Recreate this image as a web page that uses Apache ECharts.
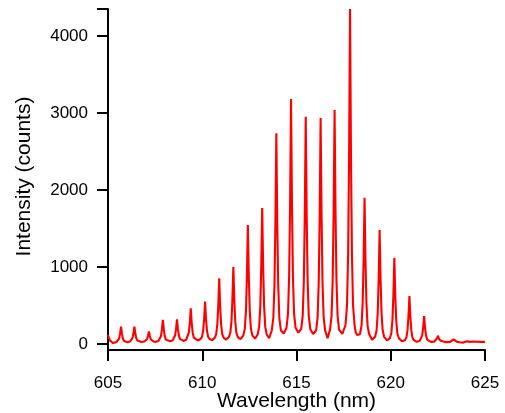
<!DOCTYPE html>
<html>
<head>
<meta charset="utf-8">
<script src="https://cdn.jsdelivr.net/npm/echarts@6/dist/echarts.min.js"></script>
<style>html,body{margin:0;padding:0;background:#fff}#c{width:505px;height:413px}</style>
</head>
<body>
<div id="c"></div>
<script>
const wavelength = [
605.00,605.05,605.12,605.20,605.28,605.36,
605.45,605.53,605.59,605.64,605.69,605.74,605.79,605.85,605.93,606.05,
606.16,606.24,606.30,606.35,606.40,606.45,606.50,606.56,606.64,606.78,
606.93,607.01,607.07,607.12,607.17,607.22,607.27,607.33,607.41,607.54,
607.67,607.75,607.81,607.86,607.91,607.96,608.01,608.07,608.15,608.29,
608.42,608.50,608.56,608.61,608.66,608.71,608.76,608.82,608.90,609.03,
609.15,609.23,609.29,609.34,609.39,609.44,609.49,609.55,609.63,609.77,
609.91,609.99,610.05,610.10,610.15,610.20,610.25,610.31,610.39,610.52,
610.66,610.74,610.80,610.85,610.90,610.95,611.00,611.06,611.14,611.27,
611.41,611.49,611.55,611.60,611.65,611.70,611.75,611.81,611.89,612.03,
612.18,612.26,612.32,612.37,612.42,612.47,612.52,612.58,612.66,612.80,
612.94,613.02,613.08,613.13,613.18,613.23,613.28,613.34,613.42,613.55,
613.69,613.77,613.83,613.88,613.93,613.98,614.03,614.09,614.17,614.32,
614.47,614.55,614.61,614.66,614.71,614.76,614.81,614.87,614.95,615.10,
615.25,615.33,615.39,615.44,615.49,615.54,615.59,615.65,615.73,615.88,
616.04,616.12,616.18,616.23,616.28,616.33,616.38,616.44,616.52,616.65,
616.78,616.86,616.92,616.97,617.02,617.07,617.12,617.18,617.26,617.43,
617.60,617.68,617.74,617.79,617.84,617.89,617.94,618.00,618.08,618.14,618.18,618.23,
618.37,618.45,618.51,618.56,618.61,618.66,618.71,618.77,618.85,619.01,
619.17,619.25,619.31,619.36,619.41,619.46,619.51,619.57,619.65,619.80,
619.95,620.03,620.09,620.14,620.19,620.24,620.29,620.35,620.43,620.59,
620.75,620.83,620.89,620.94,620.99,621.04,621.09,621.15,621.23,621.38,
621.53,621.61,621.67,621.72,621.77,621.82,621.87,621.93,622.01,622.13,
622.30,622.40,622.46,622.50,622.55,622.62,622.72,622.92,
623.15,623.25,623.33,623.41,623.52,
623.65,623.75,623.85,623.95,624.05,624.12,624.20,624.30,624.40,624.50,624.60,624.70,624.80,624.90,625.00
];
const intensity = [
117,80,40,15,12,20,
26,38,71,133,225,133,71,38,26,22,
32,44,76,136,226,136,76,44,32,25,
32,40,62,103,164,103,62,40,32,28,
40,57,102,186,312,186,102,57,40,35,
46,63,109,193,320,193,109,63,46,40,
58,83,150,275,463,275,150,83,58,46,
65,95,175,325,550,325,175,95,65,50,
80,128,255,494,853,494,255,128,80,58,
90,146,297,578,1000,578,297,146,90,62,
112,201,437,880,1545,880,437,201,112,70,
124,225,496,1004,1766,1004,496,225,124,75,
179,337,759,1550,2736,1550,759,337,179,135,
212,396,886,1804,3182,1804,886,396,212,147,
195,366,821,1673,2952,1673,821,366,195,130,
175,346,801,1655,2935,1655,801,346,175,74,
188,365,835,1716,3039,1716,835,365,188,130,
247,501,1178,2447,4350,2447,1178,501,247,150,170,115,
130,239,531,1079,1900,1079,531,239,130,55,
93,179,408,837,1480,837,408,179,93,48,
74,139,312,635,1120,635,312,139,74,35,
50,85,180,357,623,357,180,85,50,28,
38,58,112,213,364,213,112,58,38,28,
30,45,75,108,75,45,30,24,
28,42,61,42,28,
22,30,18,26,35,20,28,15,32,22,30,18,27,20,28
];
const xTicks = [605, 610, 615, 620, 625];
const yTicks = [0, 1000, 2000, 3000, 4000];
const xTitle = 'Wavelength (nm)';
const yTitle = 'Intensity (counts)';

const data = wavelength.map((w, i) => [w, intensity[i]]);
const chart = echarts.init(document.getElementById('c'), null, {renderer: 'canvas'});
const axisFont = {fontFamily: 'Liberation Sans, Arial, sans-serif', color: '#000'};
chart.setOption({
  animation: false,
  backgroundColor: '#fff',
  grid: {left: 108, right: 20, top: 9, bottom: 69, containLabel: false, outerBoundsMode: 'none'},
  xAxis: {
    type: 'value', min: 605, max: 625, interval: 5, offset: 6,
    name: xTitle, nameLocation: 'middle', nameGap: 41, nameMoveOverlap: false,
    nameTextStyle: Object.assign({fontSize: 21}, axisFont),
    axisLine: {show: true, onZero: false, lineStyle: {color: '#000', width: 2}},
    axisTick: {show: true, inside: false, length: 11, lineStyle: {color: '#000', width: 2}},
    axisLabel: Object.assign({fontSize: 17, margin: 25, formatter: v => String(v)}, axisFont),
    splitLine: {show: false}
  },
  yAxis: {
    type: 'value', min: 0, max: 4350, interval: 1000,
    name: yTitle, nameLocation: 'middle', nameGap: 73, nameRotate: 90, nameMoveOverlap: false,
    nameTextStyle: Object.assign({fontSize: 21}, axisFont),
    axisLine: {show: true, onZero: false, lineStyle: {color: '#000', width: 2}},
    axisTick: {show: true, inside: false, length: 11, lineStyle: {color: '#000', width: 2}},
    axisLabel: Object.assign({fontSize: 17, margin: 20, formatter: v => String(v), customValues: yTicks}, axisFont),
    splitLine: {show: false}
  },
  series: [{
    type: 'line', data: data, showSymbol: false, symbol: 'none',
    lineStyle: {color: '#ff0000', width: 2.1}, clip: true
  }]
});
// extend the y axis line down to the offset x axis line (corner join)
const p0 = chart.convertToPixel({gridIndex: 0}, [605, 0]);
chart.setOption({
  graphic: [{
    type: 'line', silent: true,
    shape: {x1: p0[0], y1: p0[1], x2: p0[0], y2: p0[1] + 7},
    style: {stroke: '#000', lineWidth: 2}
  }]
});
</script>
</body>
</html>
